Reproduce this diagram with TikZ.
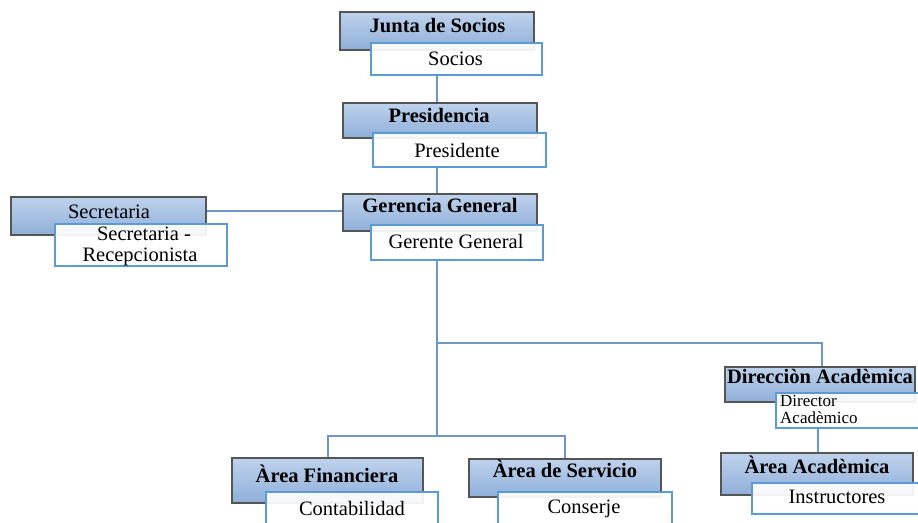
\documentclass[tikz,border=0pt]{standalone}
\usepackage{fontspec}
\setmainfont{Liberation Serif}
\definecolor{bluetop}{HTML}{BED2EC}
\definecolor{bluebot}{HTML}{8FAFD9}
\definecolor{boxborder}{HTML}{555555}
\definecolor{whiteborder}{HTML}{5B9BD5}
\definecolor{connblue}{HTML}{6F96C8}
\tikzset{
  bluebox/.style={draw=boxborder, line width=1.2pt, top color=bluetop, bottom color=bluebot, inner sep=0pt, rectangle},
  whitebox/.style={draw=whiteborder, line width=1.3pt, fill=white, fill opacity=0.92, inner sep=0pt, rectangle},
  conn/.style={draw=connblue, line width=2.2pt},
  bt/.style={font=\fontsize{20.5}{23}\selectfont\bfseries, inner sep=0pt, anchor=base, text=black},
  rt/.style={font=\fontsize{20.5}{23}\selectfont, inner sep=0pt, anchor=base, text=black},
  st/.style={font=\fontsize{17}{18}\selectfont, inner sep=0pt, anchor=base west, text=black},
}
\begin{document}
\begin{tikzpicture}[x=1pt,y=-1pt]
\useasboundingbox (0,0) rectangle (918,522);
\clip (0,0) rectangle (918,522);
\fill[white] (0,0) rectangle (918,522);

% boxes
\node[bluebox, minimum width=194pt, minimum height=38pt] (jb) at (437,31) {};
\node[whitebox, minimum width=171pt, minimum height=32pt] (jw) at (456.5,59) {};
\node[bluebox, minimum width=194pt, minimum height=35pt] (pb) at (440,120.5) {};
\node[whitebox, minimum width=173pt, minimum height=34pt] (pw) at (459.5,150) {};
\node[bluebox, minimum width=194pt, minimum height=37pt] (gb) at (440,212.5) {};
\node[whitebox, minimum width=172pt, minimum height=35pt] (gw) at (457,242.5) {};
\node[bluebox, minimum width=195pt, minimum height=38pt] (sb) at (108.5,216) {};
\node[whitebox, minimum width=172pt, minimum height=42pt] (sw) at (141,245) {};
\node[bluebox, minimum width=190pt, minimum height=35pt] (db) at (820,384.5) {};
\node[whitebox, minimum width=172pt, minimum height=35pt] (dw) at (862,410.5) {};
\node[bluebox, minimum width=192pt, minimum height=42pt] (ab) at (817,474) {};
\node[whitebox, minimum width=172pt, minimum height=31pt] (aw) at (838,498.5) {};
\node[bluebox, minimum width=191pt, minimum height=45pt] (fb) at (327.5,480.5) {};
\node[whitebox, minimum width=172pt, minimum height=48pt] (fw) at (352,516) {};
\node[bluebox, minimum width=192pt, minimum height=38pt] (vb) at (565,478) {};
\node[whitebox, minimum width=174pt, minimum height=48pt] (vw) at (585,516) {};

% junction coordinates
\coordinate (x1) at (437,0);
\coordinate (j1) at (437,343);
\coordinate (j2) at (437,436);
\coordinate (jd) at (822,343);
\coordinate (jf) at (328,436);
\coordinate (js) at (565,436);
\coordinate (xa) at (818,0);

% connectors
\draw[conn] (x1 |- jw.south) -- (x1 |- pb.north);
\draw[conn] (x1 |- pw.south) -- (x1 |- gb.north);
\draw[conn] (sb.east |- 0,211) -- (gb.west |- 0,211);
\draw[conn] (x1 |- gw.south) -- (j2);
\draw[conn] (j1) -- (jd) -- (jd |- db.north);
\draw[conn] (jf |- fb.north) -- (jf) -- (js) -- (js |- vb.north);
\draw[conn] (xa |- dw.south) -- (xa |- ab.north);

% texts
\node[bt] (tj) at (437.5,32) {Junta de Socios};
\node[rt] (tjs) at (455.5,65) {Socios};
\node[bt] (tp) at (439,122) {Presidencia};
\node[rt] (tps) at (457,157) {Presidente};
\node[bt] (tg) at (440,212) {Gerencia General};
\node[rt] (tgs) at (456,248) {Gerente General};
\node[rt] (ts) at (109,218) {Secretaria};
\node[rt] (ts1) at (144,240) {Secretaria -};
\node[rt] (ts2) at (140,261) {Recepcionista};
\node[bt] (td) at (820,383) {Direcciòn Acadèmica};
\node[st] (td1) at (780,406) {Director};
\node[st] (td2) at (780,423) {Acadèmico};
\node[bt] (ta) at (817,473) {Àrea Acadèmica};
\node[rt] (tas) at (837,503) {Instructores};
\node[bt] (tf) at (327,482) {Àrea Financiera};
\node[rt] (tfs) at (352,515) {Contabilidad};
\node[bt] (tv) at (565,477) {Àrea de Servicio};
\node[rt] (tvs) at (584,513) {Conserje};
\end{tikzpicture}
\end{document}
